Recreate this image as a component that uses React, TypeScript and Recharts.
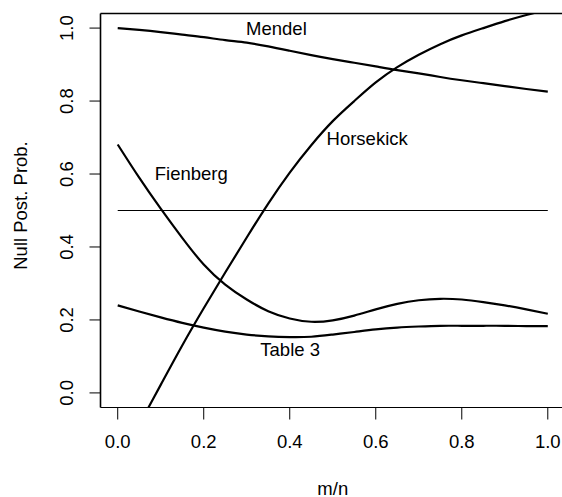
import React from 'react';
import { LineChart, Line, XAxis, YAxis, ReferenceLine, ReferenceDot } from 'recharts';

const FONT = '"Liberation Sans", Arial, Helvetica, sans-serif';
const FS = 18.5;

const ratios = [0, 0.05, 0.1, 0.15, 0.2, 0.25, 0.3, 0.35, 0.4, 0.45, 0.5, 0.55, 0.6, 0.65, 0.7, 0.75, 0.8, 0.85, 0.9, 0.95, 1.0];
const mendel = [1.0, 0.995, 0.989, 0.982, 0.975, 0.967, 0.96, 0.95, 0.938, 0.926, 0.915, 0.905, 0.895, 0.885, 0.876, 0.866, 0.857, 0.849, 0.841, 0.833, 0.826];
const horsekick = [-0.198, -0.087, 0.022, 0.13, 0.232, 0.33, 0.426, 0.519, 0.604, 0.679, 0.745, 0.8, 0.851, 0.893, 0.927, 0.956, 0.98, 1.0, 1.019, 1.036, 1.051];
const fienberg = [0.681, 0.59, 0.505, 0.425, 0.352, 0.297, 0.256, 0.224, 0.204, 0.195, 0.199, 0.212, 0.229, 0.244, 0.254, 0.258, 0.256, 0.249, 0.24, 0.229, 0.217];
const table3 = [0.24, 0.223, 0.207, 0.192, 0.179, 0.168, 0.16, 0.155, 0.153, 0.154, 0.16, 0.167, 0.174, 0.179, 0.182, 0.184, 0.184, 0.184, 0.184, 0.183, 0.183];

const xTicks = [0, 0.2, 0.4, 0.6, 0.8, 1.0];
const yTicks = [0, 0.2, 0.4, 0.6, 0.8, 1.0];
const axisDomain = [-0.04, 1.04];
const nullLevel = 0.5;
const nullSpan = [0, 1];

const curveLabels = [
  { name: 'Mendel', x: 0.369, y: 0.998 },
  { name: 'Horsekick', x: 0.58, y: 0.698 },
  { name: 'Fienberg', x: 0.171, y: 0.601 },
  { name: 'Table 3', x: 0.401, y: 0.118 },
];

const data = ratios.map((x, i) => ({
  x,
  mendel: mendel[i],
  horsekick: horsekick[i],
  fienberg: fienberg[i],
  table3: table3[i],
}));

const XTick = (props: any) => {
  const { x, y, payload } = props;
  return (
    <text x={x} y={y + 28.8} textAnchor="middle" fontFamily={FONT} fontSize={FS} fill="#000">
      {Number(payload.value).toFixed(1)}
    </text>
  );
};

const YTick = (props: any) => {
  const { x, y, payload } = props;
  const bx = x - 16.8;
  return (
    <text
      x={bx}
      y={y}
      transform={`rotate(-90 ${bx} ${y})`}
      textAnchor="middle"
      fontFamily={FONT}
      fontSize={FS}
      fill="#000"
    >
      {Number(payload.value).toFixed(1)}
    </text>
  );
};

const XLabel = (props: any) => {
  const vb = props.viewBox;
  return (
    <text x={vb.x + vb.width / 2} y={vb.y + vb.height - 2} textAnchor="middle" fontFamily={FONT} fontSize={FS} fill="#000">
      m/n
    </text>
  );
};

const YLabel = (props: any) => {
  const vb = props.viewBox;
  const bx = vb.x + 26.7;
  const cy = vb.y + vb.height / 2 - 5;
  return (
    <text x={bx} y={cy} transform={`rotate(-90 ${bx} ${cy})`} textAnchor="middle" fontFamily={FONT} fontSize={FS} fill="#000">
      Null Post. Prob.
    </text>
  );
};

const series = ['mendel', 'horsekick', 'fienberg', 'table3'];

export default function App() {
  return (
    <div style={{ position: 'absolute', left: 0, top: 0, width: 562, height: 497, overflow: 'hidden', background: '#fff' }}>
      <LineChart width={566} height={497} data={data} margin={{ top: 12.5, right: 1, bottom: 0, left: 0 }}>
        <XAxis
          type="number"
          dataKey="x"
          domain={axisDomain}
          allowDataOverflow
          ticks={xTicks}
          tick={<XTick />}
          tickSize={12}
          tickMargin={0}
          height={89.5}
          axisLine={{ stroke: '#000', strokeWidth: 1 }}
          tickLine={{ stroke: '#000', strokeWidth: 1 }}
          label={XLabel}
        />
        <XAxis
          xAxisId="top"
          orientation="top"
          type="number"
          dataKey="x"
          domain={axisDomain}
          allowDataOverflow
          height={1}
          tick={false}
          tickLine={false}
          axisLine={{ stroke: '#000', strokeWidth: 1.6 }}
        />
        <YAxis
          type="number"
          domain={axisDomain}
          allowDataOverflow
          ticks={yTicks}
          tick={<YTick />}
          tickSize={11}
          tickMargin={0}
          width={100.5}
          axisLine={{ stroke: '#000', strokeWidth: 1.6 }}
          tickLine={{ stroke: '#000', strokeWidth: 1 }}
          label={YLabel}
        />
        <ReferenceLine
          segment={[
            { x: nullSpan[0], y: nullLevel },
            { x: nullSpan[1], y: nullLevel },
          ]}
          stroke="#000"
          strokeWidth={1.2}
        />
        {series.map((k) => (
          <Line
            key={k}
            dataKey={k}
            type="natural"
            stroke="#000"
            strokeWidth={2.2}
            dot={false}
            activeDot={false}
            isAnimationActive={false}
          />
        ))}
        {curveLabels.map((l) => (
          <ReferenceDot
            key={l.name}
            x={l.x}
            y={l.y}
            r={0}
            fill="none"
            stroke="none"
            label={{ value: l.name, position: 'center', fontFamily: FONT, fontSize: FS, fill: '#000' }}
          />
        ))}
      </LineChart>
    </div>
  );
}
